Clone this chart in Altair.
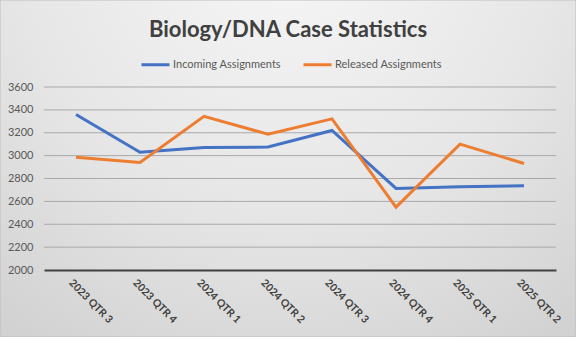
import altair as alt
import pandas as pd

quarters = ["2023 QTR 3", "2023 QTR 4", "2024 QTR 1", "2024 QTR 2",
            "2024 QTR 3", "2024 QTR 4", "2025 QTR 1", "2025 QTR 2"]
incoming = [3360, 3030, 3070, 3075, 3220, 2713, 2727, 2737]
released = [2985, 2940, 3344, 3187, 3321, 2550, 3100, 2931]
series_names = ["Incoming Assignments", "Released Assignments"]
series_colors = ["#4472C4", "#ED7D31"]
y_ticks = [2000, 2200, 2400, 2600, 2800, 3000, 3200, 3400, 3600]
grid_ticks = [2200, 2400, 2600, 2800, 3000, 3200, 3400, 3600]

rows = []
for name, vals in zip(series_names, [incoming, released]):
    for q, v in zip(quarters, vals):
        rows.append({"Quarter": q, "Series": name, "Value": v})
df = pd.DataFrame(rows)

PL, PT, PR, PB = 44, 87, 20, 67
W, H = 512, 183

yscale = alt.Scale(domain=[2000, 3600], nice=False, zero=False)
yaxis = alt.Axis(title=None, values=y_ticks, format="d", ticks=False, domain=False,
                 labelFont="Lato", labelFontSize=11, labelColor="#595959",
                 labelPadding=11, grid=False, zindex=1)

bg = alt.Chart(pd.DataFrame({"a": [0]})).mark_rect(
    color={"gradient": "radial", "x1": 0.5, "y1": 0.1, "r1": 0,
           "x2": 0.5, "y2": 0.1, "r2": 0.95,
           "stops": [{"offset": 0, "color": "#f7f7f7"},
                     {"offset": 0.5, "color": "#e6e6e6"},
                     {"offset": 1, "color": "#cbcbcb"}]},
    stroke="#bdbdbd", strokeWidth=1
).encode(
    x=alt.value(-PL), x2=alt.value(W + PR),
    y=alt.value(-PT), y2=alt.value(H + PB)
)

grid = alt.Chart(pd.DataFrame({"g": grid_ticks})).mark_rule(
    color="#a9a9a9", strokeWidth=1
).encode(
    y=alt.Y("g:Q", scale=yscale, axis=yaxis),
    x=alt.value(0), x2=alt.value(W)
)

lines = alt.Chart(df).mark_line(strokeWidth=3, clip=False).encode(
    x=alt.X("Quarter:N", sort=quarters,
            scale=alt.Scale(type="point", padding=0.5),
            axis=alt.Axis(title=None, labelAngle=45, labelAlign="left",
                          labelBaseline="middle", labelPadding=11, labelOffset=-6,
                          ticks=False, domain=True, domainColor="#404040",
                          domainWidth=2, labelFont="Lato", labelFontSize=10.5,
                          labelFontWeight="bold",
                          labelColor="#404040", grid=False, zindex=1)),
    y=alt.Y("Value:Q", scale=yscale, axis=yaxis),
    color=alt.Color("Series:N", sort=series_names,
                    scale=alt.Scale(domain=series_names, range=series_colors),
                    legend=alt.Legend(title=None, orient="none", legendX=96, legendY=-38,
                                      direction="horizontal", symbolType="stroke",
                                      symbolStrokeWidth=3, symbolSize=784,
                                      labelFont="Lato", labelFontSize=11,
                                      labelColor="#595959", labelOffset=2,
                                      columnPadding=16))
)

chart = alt.layer(bg, grid, lines).properties(
    width=W, height=H,
    autosize=alt.AutoSizeParams(type="none"),
    padding={"left": PL, "top": PT, "right": PR, "bottom": PB},
    title=alt.TitleParams("Biology/DNA Case Statistics", font="Lato", fontSize=22,
                          fontWeight="bold", color="#404040", dx=-12, offset=-42)
).configure(background="#dcdcdc").configure_view(stroke=None)

chart.save("out.html", embed_options={"renderer": "svg", "actions": False})
